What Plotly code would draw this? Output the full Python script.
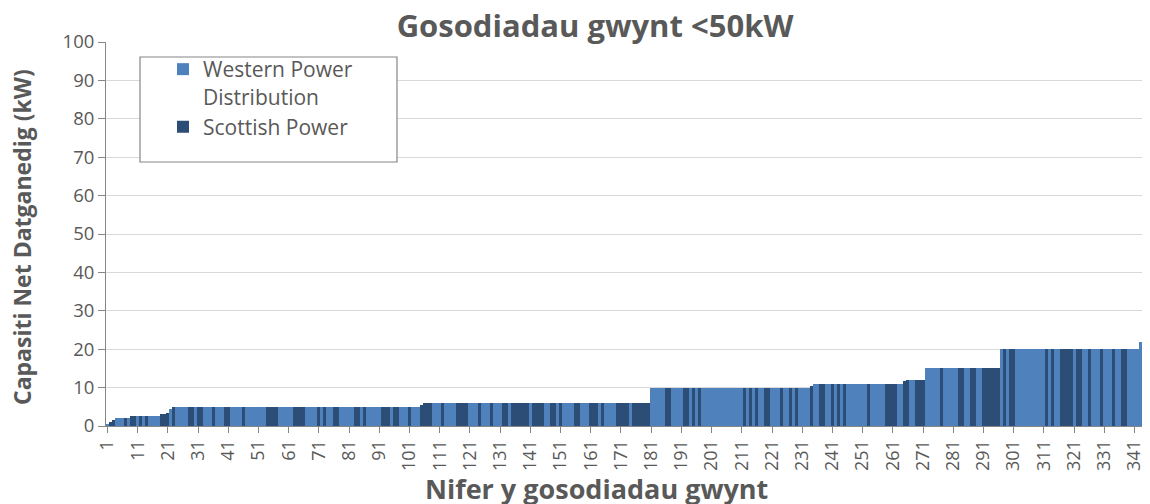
import plotly.graph_objects as go

# ---- data ----
# capacity steps (kW) and how many consecutive installations share that value (sorted ascending)
step_capacity = [0.5, 1.0, 1.5, 2.0, 2.5, 3.0, 3.2, 3.5, 4.5, 5.0, 5.5, 6.0, 10.0, 10.5, 11.0, 11.8, 12.0, 15.0, 20.0, 22.0]
step_count = [1, 1, 1, 5, 10, 1, 1, 1, 1, 82, 1, 75, 53, 1, 30, 1, 6, 25, 46, 1]

# installation numbers operated by Scottish Power (all others: Western Power Distribution)
scottish_power_ids = [
    2, 3, 7, 9, 10, 12, 14, 19, 20, 21, 23, 28, 29, 31, 32, 36, 40, 41, 46,
    54, 55, 56, 57, 63, 64, 65, 66, 71, 73, 76, 77, 83, 84, 86, 92, 93, 94,
    96, 97, 101, 105, 106, 107, 108, 112, 117, 118, 119, 120, 124, 128, 132,
    133, 135, 136, 137, 138, 139, 140, 142, 143, 144, 145, 148, 149, 151, 156,
    157, 161, 162, 163, 165, 170, 171, 172, 173, 175, 176, 177, 178, 179, 180,
    186, 187, 192, 193, 195, 197, 212, 214, 216, 219, 220, 224, 227, 229, 234,
    237, 238, 241, 243, 245, 253, 259, 260, 261, 262, 265, 266, 269, 270, 271,
    277, 283, 284, 287, 288, 291, 292, 293, 294, 295, 296, 298, 300, 301, 312,
    314, 317, 318, 319, 320, 322, 323, 326, 330, 334, 337, 338,
]

x_tick_labels = ["1", "11", "21", "31", "41", "51", "61", "71", "81", "91", "101",
                 "111", "121", "131", "141", "151", "161", "171", "181", "191", "201",
                 "211", "221", "231", "241", "251", "261", "271", "281", "291", "301",
                 "311", "321", "331", "341"]

series_names = ["Western Power<br>Distribution", "Scottish Power"]
series_colors = ["#4F81BD", "#2C4D75"]

# ---- build per-installation table ----
capacity = []
for val, n in zip(step_capacity, step_count):
    capacity.extend([val] * n)
ids = list(range(1, len(capacity) + 1))
sp = set(scottish_power_ids)

wpd_x = [i for i in ids if i not in sp]
wpd_y = [capacity[i - 1] for i in wpd_x]
sp_x = [i for i in ids if i in sp]
sp_y = [capacity[i - 1] for i in sp_x]

FONT = "Open Sans"
GREY = "#595959"

fig = go.Figure()
fig.add_trace(go.Bar(x=wpd_x, y=wpd_y, width=1.0, name=series_names[0],
                     marker=dict(color=series_colors[0], line=dict(width=0))))
fig.add_trace(go.Bar(x=sp_x, y=sp_y, width=1.0, name=series_names[1],
                     marker=dict(color=series_colors[1], line=dict(width=0))))

# page geometry (the page body adds an 8 px offset; visible width ends near 1142)
OFF = 8
L, T, RIGHT, BOTTOM = 106, 42, 1142, 426       # plot area in page pixels
W, H = 1150 - OFF, 504 - OFF
PW, PH = RIGHT - L, BOTTOM - T


def px_x(p):
    return (p - L) / PW


def px_y(p):
    return (BOTTOM - p) / PH


fig.update_layout(
    width=W, height=H,
    margin=dict(l=L - OFF, r=(OFF + W) - RIGHT, t=T - OFF, b=(OFF + H) - BOTTOM,
                pad=0, autoexpand=False),
    paper_bgcolor="white", plot_bgcolor="white",
    barmode="overlay", bargap=0,
    font=dict(family=FONT, color=GREY),
    title=dict(text="<b>Gosodiadau gwynt &lt;50kW</b>", x=(595 - OFF) / W, xanchor="center",
               y=1 - (26 - OFF) / H, yanchor="middle", yref="container",
               font=dict(family=FONT, size=31, color=GREY)),
    showlegend=True,
    legend=dict(x=px_x(163), y=px_y(49), xanchor="left", yanchor="top",
                bgcolor="rgba(0,0,0,0)", borderwidth=0, valign="top",
                font=dict(family=FONT, size=21, color=GREY), traceorder="normal",
                itemsizing="constant", tracegroupgap=0),
    xaxis=dict(range=[0.5, len(capacity) + 0.5], tickmode="array",
               tickvals=[int(t) for t in x_tick_labels], ticktext=x_tick_labels,
               tickangle=-90, ticks="outside", ticklen=6, tickcolor="#868686",
               showline=True, linecolor="#868686", linewidth=1, showgrid=False,
               zeroline=False, automargin=False, ticklabeloverflow="allow",
               tickfont=dict(family=FONT, size=18, color=GREY)),
    yaxis=dict(range=[0, 100], dtick=10, ticks="outside", ticklen=7, tickcolor="#868686",
               showline=True, linecolor="#868686", linewidth=1, gridcolor="#D9D9D9",
               zeroline=False, automargin=False,
               tickfont=dict(family=FONT, size=18.5, color=GREY)),
    shapes=[dict(type="rect", xref="paper", yref="paper",
                 x0=px_x(140), x1=px_x(397), y0=px_y(162), y1=px_y(57),
                 line=dict(color="#868686", width=1.2), fillcolor="white", layer="above")],
    annotations=[
        dict(text="<b>Nifer y gosodiadau gwynt</b>", xref="paper", yref="paper",
             x=px_x(596), y=px_y(488), xanchor="center", yanchor="middle",
             showarrow=False, font=dict(family=FONT, size=27, color=GREY)),
        dict(text="<b>Capasiti Net Datganedig (kW)</b>", xref="paper", yref="paper",
             x=px_x(22), y=px_y(237), xanchor="center", yanchor="middle",
             textangle=-90, showarrow=False, font=dict(family=FONT, size=23, color=GREY)),
    ],
)

fig.write_html("out.html")
